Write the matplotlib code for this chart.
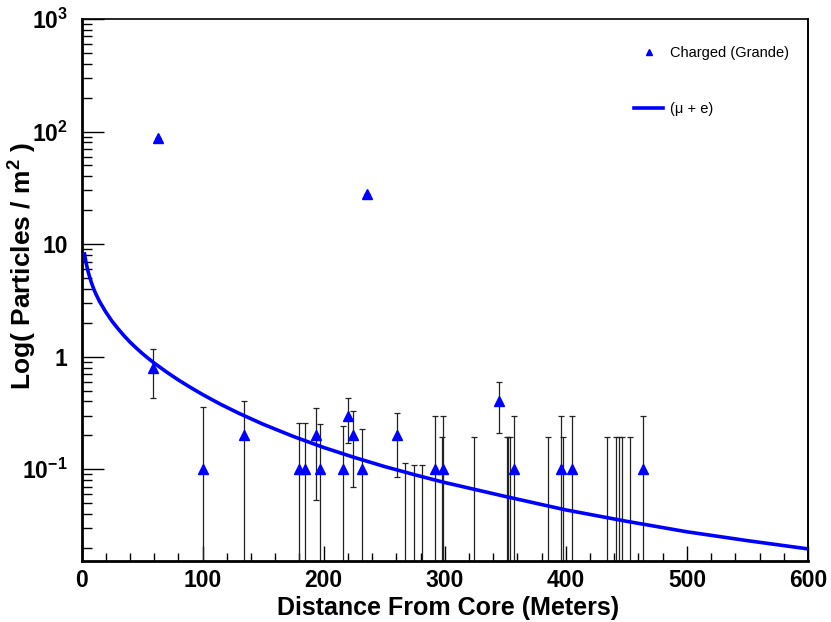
import numpy as np
import matplotlib.pyplot as plt
from matplotlib.lines import Line2D
from matplotlib.ticker import MultipleLocator, FixedLocator, FixedFormatter, LogLocator, NullFormatter

plt.rcParams['font.family'] = ['Liberation Sans', 'DejaVu Sans']
plt.rcParams['mathtext.fontset'] = 'custom'
plt.rcParams['mathtext.rm'] = 'Liberation Sans:bold'
plt.rcParams['mathtext.bf'] = 'Liberation Sans:bold'
plt.rcParams['mathtext.it'] = 'Liberation Sans:bold'

# charged particle densities seen by the Grande stations
dist = [59, 63.5, 100, 134, 179.3, 184.2, 193.9, 196.7, 215.7, 219.9, 224.3,
        231.5, 235.4, 260.8, 292, 298.6, 344.5, 357.4, 395.6, 405, 463.8]
dens = [0.8, 88, 0.1, 0.2, 0.1, 0.1, 0.2, 0.1, 0.1, 0.3, 0.2,
        0.1, 28, 0.2, 0.1, 0.1, 0.4, 0.1, 0.1, 0.1, 0.1]
dens_err = [0.37, 0, 0.26, 0.2, 0.16, 0.16, 0.147, 0.15, 0.14, 0.13, 0.13,
            0.13, 0, 0.115, 0.196, 0.196, 0.19, 0.196, 0.196, 0.196, 0.196]

# stations with zero particles: only the upper error is visible
zero_dist = [267.4, 274.9, 280.9, 297.5, 324.3, 351.4, 352.4, 354.0, 385,
             397.5, 434.2, 441.7, 443.6, 446.1, 452.7]
zero_err = [0.113, 0.110, 0.109, 0.195, 0.195, 0.195, 0.195, 0.195, 0.195,
            0.195, 0.195, 0.195, 0.195, 0.195, 0.195]

# (mu + e) lateral distribution
fit_dist = [2.5, 3, 4, 5, 6, 8, 10, 12, 15, 20, 25, 30, 35, 40, 45, 50, 55,
            60, 70, 80, 90, 100, 115, 130, 150, 175, 200, 225, 250, 275, 300,
            350, 400, 450, 500, 550, 600]
fit_dens = [8.17, 7.59, 6.66, 5.97, 5.42, 4.61, 4.02, 3.58, 3.08, 2.50, 2.08,
            1.78, 1.54, 1.35, 1.20, 1.073, 0.968, 0.878, 0.734, 0.621, 0.533,
            0.461, 0.377, 0.314, 0.251, 0.1955, 0.156, 0.1276, 0.1059, 0.0894,
            0.0762, 0.0573, 0.0435, 0.0345, 0.0278, 0.0232, 0.0196]

y_ticks = [0.1, 1, 10, 100, 1000]
y_labels = ['10$^{-1}$', '1', '10', '10$^{2}$', '10$^{3}$']

fig = plt.figure(figsize=(8.31, 6.22), dpi=100)
ax = fig.add_axes([81.5 / 831, 1 - 561 / 622, 726.5 / 831, 542 / 622])

ax.set_yscale('log')
ax.set_xlim(0, 600)
ax.set_ylim(0.0153, 1000)

# error bars first, triangles on top
ax.errorbar(zero_dist, np.zeros(len(zero_dist)), yerr=zero_err, fmt='none',
            ecolor='#222222', elinewidth=0.9, capsize=2.5, capthick=0.9)
ax.errorbar(dist, dens, yerr=dens_err, fmt='none',
            ecolor='#222222', elinewidth=0.9, capsize=2.5, capthick=0.9)
ax.plot(dist, dens, '^', color='#0000ff', ms=7, mec='#0000ff', zorder=3)
ax.plot(fit_dist, fit_dens, color='#0000ff', lw=2.6, zorder=4)

# axes styling, ROOT-like
ax.spines['left'].set_linewidth(2)
ax.spines['bottom'].set_linewidth(2)
ax.spines['top'].set_linewidth(1.2)
ax.spines['right'].set_linewidth(1.4)
ax.xaxis.set_major_locator(MultipleLocator(100))
ax.xaxis.set_minor_locator(MultipleLocator(20))
ax.yaxis.set_major_locator(FixedLocator(y_ticks))
ax.yaxis.set_major_formatter(FixedFormatter(y_labels))
ax.yaxis.set_minor_locator(LogLocator(subs=np.arange(2, 10), numticks=20))
ax.yaxis.set_minor_formatter(NullFormatter())

ax.tick_params(axis='x', which='major', direction='in', length=11, width=1,
               top=False, pad=6, labelsize=16.5)
ax.tick_params(axis='x', which='minor', direction='in', length=5.5, width=1, top=False)
ax.tick_params(axis='y', which='major', direction='in', length=15.5, width=1,
               right=False, pad=10, labelsize=16.5)
ax.tick_params(axis='y', which='minor', direction='in', length=7.5, width=1, right=False)
for lab in ax.get_xticklabels() + ax.get_yticklabels():
    lab.set_fontweight('bold')

ax.set_xlabel('Distance From Core (Meters)', fontsize=18, fontweight='bold')
ax.xaxis.set_label_coords(0.504, -0.064)
ax.set_ylabel('Log( Particles / m$^{2}$ )', fontsize=19, fontweight='bold')
ax.yaxis.set_label_coords(-0.058, 0.545)

handles = [Line2D([], [], ls='none', marker='^', color='#0000ff', ms=5),
           Line2D([], [], color='#0000ff', lw=2.6)]
ax.legend(handles, ['Charged (Grande)', '(\u03bc + e)'], loc='upper left',
          bbox_to_anchor=(0.7605, 0.95), frameon=False, fontsize=10.5,
          borderpad=0, borderaxespad=0, handlelength=2.0, handletextpad=0.45,
          labelspacing=2.85)

fig.savefig('out.png', dpi=100)
